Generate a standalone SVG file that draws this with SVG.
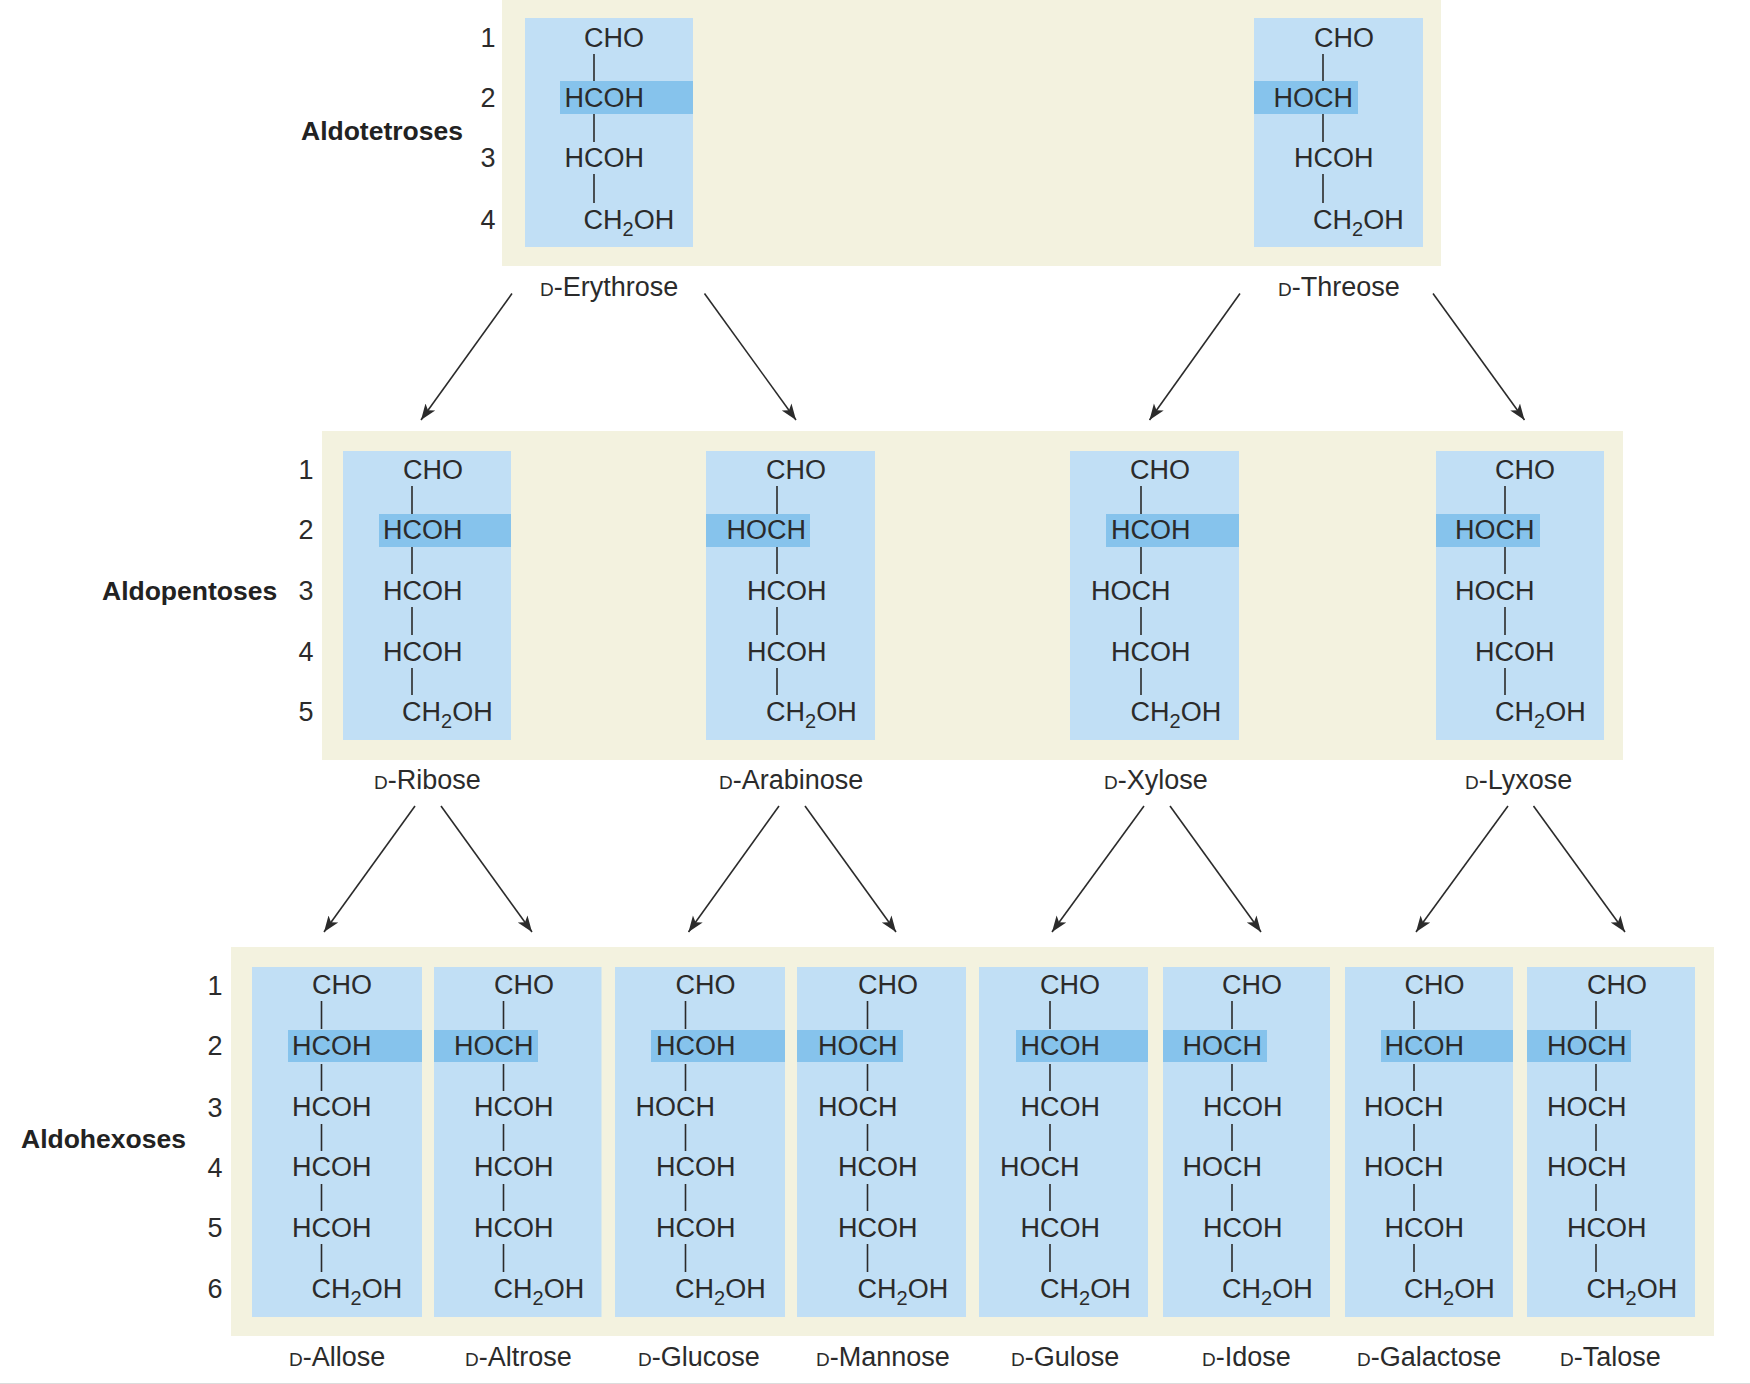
<svg xmlns="http://www.w3.org/2000/svg" width="1750" height="1384" viewBox="0 0 1750 1384">
<style>
text{font-family:"Liberation Sans",Arial,sans-serif;font-size:27px;fill:#2b2b2b}
.head{font-weight:bold;fill:#222;font-size:26.500px}
.num{text-anchor:middle}
.panel{fill:#f3f2df}
.box{fill:#c1dff5}
.hi{fill:#86c3ec}
.bond{stroke:#2b2b2b;stroke-width:1.6;fill:none}
.arrow{stroke:#2b2b2b;stroke-width:1.6;fill:none;marker-end:url(#ah)}
.sc{font-size:19px}
.sub{font-size:20px}
</style>
<defs>
<marker id="ah" markerUnits="userSpaceOnUse" markerWidth="18" markerHeight="14" refX="16" refY="7" orient="auto"><path d="M0 1 L16 7 L0 13 L4 7 Z" fill="#2b2b2b"/></marker>
</defs>
<rect width="1750" height="1384" fill="#fff"/>
<rect y="1383" width="1750" height="1" fill="#dcdcdc"/>

<g id="tier-tetroses">
<rect class="panel" x="502" y="0" width="939" height="266"/>
<text class="head" x="301" y="140">Aldotetroses</text>
<text class="num" x="488" y="47">1</text><text class="num" x="488" y="107">2</text><text class="num" x="488" y="167">3</text><text class="num" x="488" y="229">4</text>
</g>
<g id="tier-pentoses">
<rect class="panel" x="322" y="431" width="1301" height="329"/>
<text class="head" x="102" y="600">Aldopentoses</text>
<text class="num" x="306" y="479">1</text><text class="num" x="306" y="539">2</text><text class="num" x="306" y="600">3</text><text class="num" x="306" y="661">4</text><text class="num" x="306" y="721">5</text>
</g>
<g id="tier-hexoses">
<rect class="panel" x="231" y="947" width="1483" height="389"/>
<text class="head" x="21" y="1148">Aldohexoses</text>
<text class="num" x="215" y="995">1</text><text class="num" x="215" y="1055">2</text><text class="num" x="215" y="1117">3</text><text class="num" x="215" y="1177">4</text><text class="num" x="215" y="1237">5</text><text class="num" x="215" y="1298">6</text>
</g>

<g id="erythrose">
<rect class="box" x="525" y="18" width="168" height="229"/><rect class="hi" x="560" y="81" width="133" height="33"/>
<path class="bond" d="M594 54V81M594 114V142M594 174V203"/>
<text x="584" y="47">CHO</text><text x="564.500" y="107">HCOH</text><text x="564.500" y="167">HCOH</text><text x="583.500" y="229">CH<tspan class="sub" dy="7">2</tspan><tspan dy="-7">OH</tspan></text>
<text x="540" y="296"><tspan class="sc">D</tspan>-Erythrose</text>
</g>
<g id="threose">
<rect class="box" x="1254" y="18" width="169" height="229"/><rect class="hi" x="1254" y="81" width="104" height="33"/>
<path class="bond" d="M1323 54V81M1323 114V142M1323 174V203"/>
<text x="1314" y="47">CHO</text><text x="1273.500" y="107">HOCH</text><text x="1294" y="167">HCOH</text><text x="1313" y="229">CH<tspan class="sub" dy="7">2</tspan><tspan dy="-7">OH</tspan></text>
<text x="1278" y="296"><tspan class="sc">D</tspan>-Threose</text>
</g>

<g id="ribose">
<rect class="box" x="343" y="451" width="168" height="289"/><rect class="hi" x="379" y="514" width="132" height="33"/>
<path class="bond" d="M412 486V514M412 547V574M412 607V635M412 668V695"/>
<text x="403" y="479">CHO</text><text x="383" y="539">HCOH</text><text x="383" y="600">HCOH</text><text x="383" y="661">HCOH</text><text x="402" y="721">CH<tspan class="sub" dy="7">2</tspan><tspan dy="-7">OH</tspan></text>
<text x="374" y="789"><tspan class="sc">D</tspan>-Ribose</text>
</g>
<g id="arabinose">
<rect class="box" x="706" y="451" width="169" height="289"/><rect class="hi" x="706" y="514" width="104" height="33"/>
<path class="bond" d="M777 486V514M777 547V574M777 607V635M777 668V695"/>
<text x="766" y="479">CHO</text><text x="726.500" y="539">HOCH</text><text x="747" y="600">HCOH</text><text x="747" y="661">HCOH</text><text x="766" y="721">CH<tspan class="sub" dy="7">2</tspan><tspan dy="-7">OH</tspan></text>
<text x="719" y="789"><tspan class="sc">D</tspan>-Arabinose</text>
</g>
<g id="xylose">
<rect class="box" x="1070" y="451" width="169" height="289"/><rect class="hi" x="1106" y="514" width="133" height="33"/>
<path class="bond" d="M1141 486V514M1141 547V574M1141 607V635M1141 668V695"/>
<text x="1130" y="479">CHO</text><text x="1111" y="539">HCOH</text><text x="1091" y="600">HOCH</text><text x="1111" y="661">HCOH</text><text x="1130.500" y="721">CH<tspan class="sub" dy="7">2</tspan><tspan dy="-7">OH</tspan></text>
<text x="1104" y="789"><tspan class="sc">D</tspan>-Xylose</text>
</g>
<g id="lyxose">
<rect class="box" x="1436" y="451" width="168" height="289"/><rect class="hi" x="1436" y="514" width="104" height="33"/>
<path class="bond" d="M1505 486V514M1505 547V574M1505 607V635M1505 668V695"/>
<text x="1495" y="479">CHO</text><text x="1455" y="539">HOCH</text><text x="1455" y="600">HOCH</text><text x="1475" y="661">HCOH</text><text x="1495" y="721">CH<tspan class="sub" dy="7">2</tspan><tspan dy="-7">OH</tspan></text>
<text x="1465" y="789"><tspan class="sc">D</tspan>-Lyxose</text>
</g>

<g id="allose">
<rect class="box" x="252" y="967" width="170" height="350"/><rect class="hi" x="288" y="1030" width="134" height="32"/>
<path class="bond" d="M321.500 1001V1029M321.500 1064V1091M321.500 1124V1151M321.500 1184V1211M321.500 1244V1272"/>
<text x="312" y="994">CHO</text><text x="292" y="1055">HCOH</text><text x="292" y="1116">HCOH</text><text x="292" y="1176">HCOH</text><text x="292" y="1237">HCOH</text><text x="311.500" y="1298">CH<tspan class="sub" dy="7">2</tspan><tspan dy="-7">OH</tspan></text>
<text x="289" y="1366"><tspan class="sc">D</tspan>-Allose</text>
</g>
<g id="altrose">
<rect class="box" x="434" y="967" width="167.500" height="350"/><rect class="hi" x="434" y="1030" width="104" height="32"/>
<path class="bond" d="M503.500 1001V1029M503.500 1064V1091M503.500 1124V1151M503.500 1184V1211M503.500 1244V1272"/>
<text x="494" y="994">CHO</text><text x="454" y="1055">HOCH</text><text x="474" y="1116">HCOH</text><text x="474" y="1176">HCOH</text><text x="474" y="1237">HCOH</text><text x="493.500" y="1298">CH<tspan class="sub" dy="7">2</tspan><tspan dy="-7">OH</tspan></text>
<text x="465" y="1366"><tspan class="sc">D</tspan>-Altrose</text>
</g>
<g id="glucose">
<rect class="box" x="615" y="967" width="170" height="350"/><rect class="hi" x="651" y="1030" width="134" height="32"/>
<path class="bond" d="M685.500 1001V1029M685.500 1064V1091M685.500 1124V1151M685.500 1184V1211M685.500 1244V1272"/>
<text x="675.500" y="994">CHO</text><text x="656" y="1055">HCOH</text><text x="635.500" y="1116">HOCH</text><text x="656" y="1176">HCOH</text><text x="656" y="1237">HCOH</text><text x="675" y="1298">CH<tspan class="sub" dy="7">2</tspan><tspan dy="-7">OH</tspan></text>
<text x="638" y="1366"><tspan class="sc">D</tspan>-Glucose</text>
</g>
<g id="mannose">
<rect class="box" x="797" y="967" width="169" height="350"/><rect class="hi" x="797" y="1030" width="106" height="32"/>
<path class="bond" d="M867.500 1001V1029M867.500 1064V1091M867.500 1124V1151M867.500 1184V1211M867.500 1244V1272"/>
<text x="858" y="994">CHO</text><text x="818" y="1055">HOCH</text><text x="818" y="1116">HOCH</text><text x="838" y="1176">HCOH</text><text x="838" y="1237">HCOH</text><text x="857.500" y="1298">CH<tspan class="sub" dy="7">2</tspan><tspan dy="-7">OH</tspan></text>
<text x="816" y="1366"><tspan class="sc">D</tspan>-Mannose</text>
</g>
<g id="gulose">
<rect class="box" x="979" y="967" width="169" height="350"/><rect class="hi" x="1016" y="1030" width="132" height="32"/>
<path class="bond" d="M1050 1001V1029M1050 1064V1091M1050 1124V1151M1050 1184V1211M1050 1244V1272"/>
<text x="1040" y="994">CHO</text><text x="1020.500" y="1055">HCOH</text><text x="1020.500" y="1116">HCOH</text><text x="1000" y="1176">HOCH</text><text x="1020.500" y="1237">HCOH</text><text x="1040" y="1298">CH<tspan class="sub" dy="7">2</tspan><tspan dy="-7">OH</tspan></text>
<text x="1011" y="1366"><tspan class="sc">D</tspan>-Gulose</text>
</g>
<g id="idose">
<rect class="box" x="1163" y="967" width="167" height="350"/><rect class="hi" x="1163" y="1030" width="104" height="32"/>
<path class="bond" d="M1232 1001V1029M1232 1064V1091M1232 1124V1151M1232 1184V1211M1232 1244V1272"/>
<text x="1222" y="994">CHO</text><text x="1182.500" y="1055">HOCH</text><text x="1203" y="1116">HCOH</text><text x="1182.500" y="1176">HOCH</text><text x="1203" y="1237">HCOH</text><text x="1222" y="1298">CH<tspan class="sub" dy="7">2</tspan><tspan dy="-7">OH</tspan></text>
<text x="1202" y="1366"><tspan class="sc">D</tspan>-Idose</text>
</g>
<g id="galactose">
<rect class="box" x="1345" y="967" width="168" height="350"/><rect class="hi" x="1381" y="1030" width="132" height="32"/>
<path class="bond" d="M1414 1001V1029M1414 1064V1091M1414 1124V1151M1414 1184V1211M1414 1244V1272"/>
<text x="1404.500" y="994">CHO</text><text x="1384.500" y="1055">HCOH</text><text x="1364" y="1116">HOCH</text><text x="1364" y="1176">HOCH</text><text x="1384.500" y="1237">HCOH</text><text x="1404" y="1298">CH<tspan class="sub" dy="7">2</tspan><tspan dy="-7">OH</tspan></text>
<text x="1357" y="1366"><tspan class="sc">D</tspan>-Galactose</text>
</g>
<g id="talose">
<rect class="box" x="1527" y="967" width="168" height="350"/><rect class="hi" x="1527" y="1030" width="104" height="32"/>
<path class="bond" d="M1596 1001V1029M1596 1064V1091M1596 1124V1151M1596 1184V1211M1596 1244V1272"/>
<text x="1587" y="994">CHO</text><text x="1547" y="1055">HOCH</text><text x="1547" y="1116">HOCH</text><text x="1547" y="1176">HOCH</text><text x="1567" y="1237">HCOH</text><text x="1586.500" y="1298">CH<tspan class="sub" dy="7">2</tspan><tspan dy="-7">OH</tspan></text>
<text x="1560" y="1366"><tspan class="sc">D</tspan>-Talose</text>
</g>

<g id="connectors">
<path class="arrow" d="M512 293.500L421 420"/>
<path class="arrow" d="M704.500 293.500L796 420"/>
<path class="arrow" d="M1240 293.500L1149.500 420"/>
<path class="arrow" d="M1433 293.500L1524.500 420"/>
<path class="arrow" d="M415 806L324 932"/>
<path class="arrow" d="M441 806L532 932"/>
<path class="arrow" d="M779 806L688.500 932"/>
<path class="arrow" d="M805 806L896 932"/>
<path class="arrow" d="M1144 806L1052 932"/>
<path class="arrow" d="M1170 806L1261 932"/>
<path class="arrow" d="M1508 806L1416 932"/>
<path class="arrow" d="M1533.500 806L1625 932"/>
</g>
</svg>
